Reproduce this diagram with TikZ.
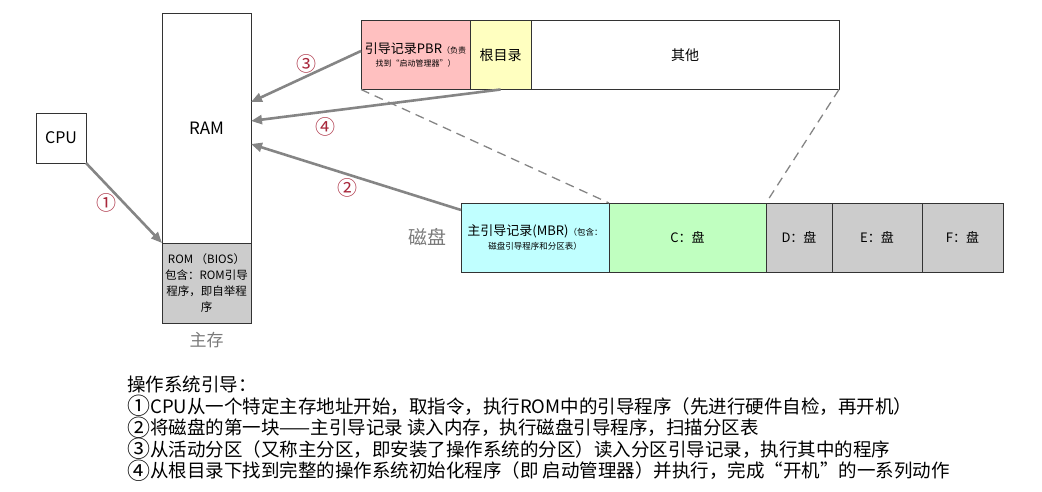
\documentclass[tikz,border=0pt]{standalone}
\usepackage{fontspec}
\setmainfont{Noto Sans CJK SC}
\usepackage{xcolor}
\usepackage{tikz}
\usetikzlibrary{positioning}
\usetikzlibrary{arrows.meta}

\definecolor{pbrpink}{HTML}{FFC0C0}
\definecolor{rootyellow}{HTML}{FFFFC0}
\definecolor{mbrcyan}{HTML}{C0FFFF}
\definecolor{cgreen}{HTML}{C0FFC0}
\definecolor{diskgray}{HTML}{CCCCCC}
\definecolor{arrowgray}{HTML}{858585}
\definecolor{numred}{HTML}{A8283C}
\definecolor{labelgray}{HTML}{7A7A7A}

% bigger circled digits in the step list
\newcommand{\stepno}[1]{{\fontsize{23}{21.5}\selectfont\raisebox{-1.5pt}{#1}}}

\begin{document}
\begin{tikzpicture}[x=1pt, y=-1pt, node distance=0pt,
  box/.style={draw=black!80, line width=0.8pt, inner sep=0pt, outer sep=0pt, align=center},
  seg/.style={box, minimum height=69pt},
  flow/.style={draw=arrowgray, line width=2.6pt, -{Triangle[length=11pt,width=9pt]}},
  num/.style={text=numred, inner sep=0pt, font=\fontsize{20}{20}\selectfont},
  split/.style={draw=arrowgray, line width=1.3pt, dash pattern=on 9pt off 6pt}]
\useasboundingbox (0,0) rectangle (1042,492);

% main memory
\node [box, minimum width=89pt, minimum height=230pt, font=\fontsize{17}{17}\selectfont] (ram) at (206.5,128) {RAM};
\node [box, fill=diskgray, minimum width=89pt, minimum height=80pt, below=of ram,
  font=\fontsize{11.5}{16}\selectfont] (rom) {ROM （BIOS）\\包含：ROM引导\\程序，即自举程\\序};
\node [below=9pt of rom, inner sep=0pt, text=labelgray, font=\fontsize{17}{17}\selectfont] (mainmem) {主存};
\node [box, minimum size=50pt, font=\fontsize{16}{16}\selectfont] (cpu) at (61,138) {CPU};

% partition (top)
\node [seg, fill=pbrpink, minimum width=109pt, font=\fontsize{8}{13}\selectfont] (pbr) at (415.5,55)
  {{\fontsize{13}{13}\selectfont 引导记录PBR}（负责\\找到“启动管理器”）};
\node [seg, fill=rootyellow, minimum width=61pt, right=of pbr, font=\fontsize{14}{14}\selectfont] (root) {根目录};
\node [seg, minimum width=308pt, right=of root, font=\fontsize{14}{14}\selectfont] (other) {其他};

% disk (bottom)
\node [seg, fill=mbrcyan, minimum width=148pt, font=\fontsize{8.5}{14}\selectfont] (mbr) at (535,237.5)
  {{\fontsize{13}{13}\selectfont 主引导记录(MBR)}（包含：\\磁盘引导程序和分区表）};
\node [seg, fill=cgreen, minimum width=157pt, right=of mbr, font=\fontsize{13}{13}\selectfont] (cdisk) {C：盘};
\node [seg, fill=diskgray, minimum width=66pt, right=of cdisk, font=\fontsize{13}{13}\selectfont] (ddisk) {D：盘};
\node [seg, fill=diskgray, minimum width=90pt, right=of ddisk, font=\fontsize{13}{13}\selectfont] (edisk) {E：盘};
\node [seg, fill=diskgray, minimum width=81pt, right=of edisk, font=\fontsize{13}{13}\selectfont] (fdisk) {F：盘};
\node [left=14pt of mbr, inner sep=0pt, text=labelgray, font=\fontsize{19}{19}\selectfont] (disklabel) {磁盘};

% C: expanded
\draw [split] (pbr.south west) -- (cdisk.north west);
\draw [split] (other.south east) -- (cdisk.north east);

% boot steps
\draw [flow] (cpu.south east) -- (rom.north west) node [num, midway, left=6pt] {①};
\draw [flow] ([yshift=-7pt]mbr.north west) -- ([yshift=-16pt]ram.east) node [num, pos=0.54, below=3pt] {②};
\draw [flow] ([yshift=4pt]pbr.west) -- ([yshift=26pt]ram.east) node [num, midway, above=2pt] {③};
\draw [flow] (root.south) -- ([yshift=7pt]ram.east) node [num, pos=0.7, below=5pt] {④};

\node [anchor=north west, align=left, inner sep=0pt, font=\fontsize{18.5}{21.5}\selectfont] (steps) at (127,376)
  {操作系统引导：\\
   \stepno{①}CPU从一个特定主存地址开始，取指令，执行ROM中的引导程序（先进行硬件自检，再开机）\\
   \stepno{②}将磁盘的第一块——主引导记录 读入内存，执行磁盘引导程序，扫描分区表\\
   \stepno{③}从活动分区（又称主分区，即安装了操作系统的分区）读入分区引导记录，执行其中的程序\\
   \stepno{④}从根目录下找到完整的操作系统初始化程序（即 启动管理器）并执行，完成“开机”的一系列动作};
\end{tikzpicture}
\end{document}
